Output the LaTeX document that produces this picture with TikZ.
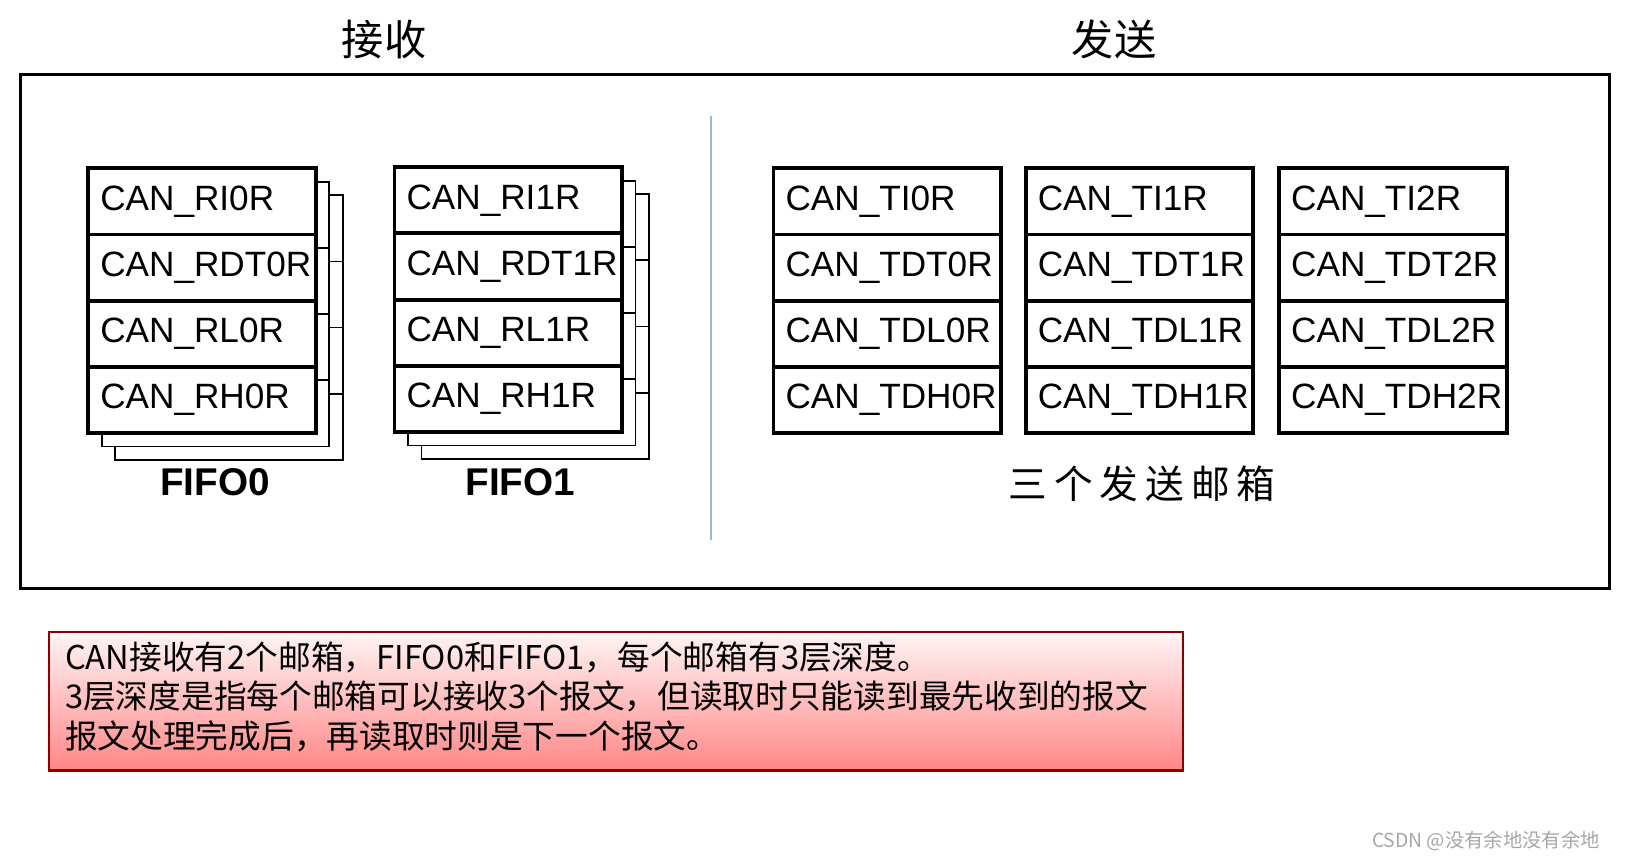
\documentclass[tikz,border=0pt]{standalone}
\usepackage{fontspec}
\setmainfont{Liberation Sans}
\newfontfamily\cjk{Noto Sans CJK SC}
\begin{document}
\begin{tikzpicture}[x=0.010383cm,y=-0.010383cm,
  reg/.style={draw=black,line width=1.1pt,fill=white,minimum width=2.274cm,minimum height=0.662cm,inner sep=0,outer sep=0,anchor=north west,text width=2.274cm,align=left,font=\fontsize{10}{12}\selectfont},
  title/.style={font=\cjk\fontsize{12}{14}\selectfont},
  lbl/.style={font=\bfseries\fontsize{11}{13}\selectfont}]
\useasboundingbox (0,0) rectangle (1568,829);
\newcommand\layer[3]{% x y line width
  \draw[line width=#3,fill=white] (#1,#2) rectangle ++(219,255);
  \foreach \k in {1,2,3}{\draw[line width=#3] (#1,#2+63.75*\k) -- ++(219,0);}}
\newcommand\stack[6]{% name x y l1 l2 l3
  \node[reg] (#1a) at (#2,#3) {\hspace*{0.12cm}#4};
  \node[reg] (#1b) at (#1a.south west) {\hspace*{0.12cm}#5};
  \node[reg] (#1c) at (#1b.south west) {\hspace*{0.12cm}#6};}
\node[title] (t1) at (370,38) {接收};
\node[title] (t2) at (1073,38) {发送};
\draw[line width=0.9pt] (20,72) rectangle (1550,567);
\coordinate (v1) at (685,112); \coordinate (v2) at (685,520);
\draw[color=cyan!40!gray!70,line width=0.6pt] (v1) -- (v2);
% FIFO0
\layer{111}{188}{0.5pt}\layer{98}{175}{0.5pt}
\stack{f0}{85}{162}{CAN\_RI0R}{CAN\_RDT0R}{CAN\_RL0R}
\node[reg] (f0d) at (f0c.south west) {\hspace*{0.12cm}CAN\_RH0R};
\node[lbl] (l0) at (207,464) {FIFO0};
% FIFO1
\layer{406}{187}{0.5pt}\layer{393}{174}{0.5pt}
\stack{f1}{380}{161}{CAN\_RI1R}{CAN\_RDT1R}{CAN\_RL1R}
\node[reg] (f1d) at (f1c.south west) {\hspace*{0.12cm}CAN\_RH1R};
\node[lbl] (l1) at (501,464) {FIFO1};
% TX
\stack{t0}{745}{162}{CAN\_TI0R}{CAN\_TDT0R}{CAN\_TDL0R}
\node[reg] (t0d) at (t0c.south west) {\hspace*{0.12cm}CAN\_TDH0R};
\stack{tt}{988}{162}{CAN\_TI1R}{CAN\_TDT1R}{CAN\_TDL1R}
\node[reg] (ttd) at (ttc.south west) {\hspace*{0.12cm}CAN\_TDH1R};
\stack{tw}{1232}{162}{CAN\_TI2R}{CAN\_TDT2R}{CAN\_TDL2R}
\node[reg] (twd) at (twc.south west) {\hspace*{0.12cm}CAN\_TDH2R};
\node[font=\cjk\fontsize{11}{13}\selectfont\addfontfeature{LetterSpace=18}] (mb) at (1100,466) {三个发送邮箱};
% note
\shade[top color=red!4,bottom color=red!45!pink!80] (46,608) rectangle (1138,741);
\node[draw=red!55!black,line width=0.6pt,minimum width=11.338cm,minimum height=1.381cm,inner sep=0,anchor=north west] (note) at (46,608) {};
\node[anchor=north west,align=left,inner sep=0,font=\cjk\fontsize{9.3}{11.3}\selectfont] (nt) at (62,617)
 {CAN接收有2个邮箱，FIFO0和FIFO1，每个邮箱有3层深度。\\3层深度是指每个邮箱可以接收3个报文，但读取时只能读到最先收到的报文\\报文处理完成后，再读取时则是下一个报文。};
\node[anchor=east,font=\cjk\fontsize{5.5}{7}\selectfont,text=gray!70] (wm) at (1553,810) {CSDN @没有余地没有余地};
\end{tikzpicture}
\end{document}
